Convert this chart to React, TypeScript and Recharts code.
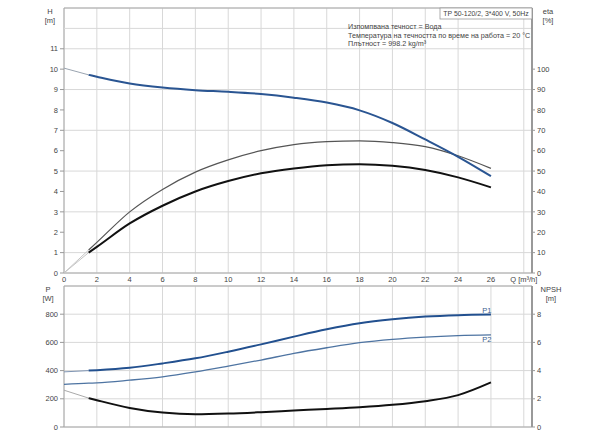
import { LineChart, Line, XAxis, YAxis, CartesianGrid, ReferenceArea, ReferenceLine } from 'recharts'

// flow Q [m³/h]; index 0 and 1 hold the faint start-up segment
const flow = [0, 1.5, 2, 4, 6, 8, 10, 12, 14, 16, 18, 20, 22, 24, 26]
const xTicks = [0, 2, 4, 6, 8, 10, 12, 14, 16, 18, 20, 22, 24, 26, 28]

// top chart: head [m] and efficiencies [%]
const headStart = [10.05, 9.72]
const head = [null, 9.72, 9.63, 9.3, 9.1, 8.97, 8.89, 8.78, 8.6, 8.36, 7.98, 7.36, 6.55, 5.7, 4.75]
const etaPumpStart = [0, 11.3]
const etaPump = [null, 11.3, 15, 30, 41, 49.5, 55.5, 60, 63, 64.4, 64.8, 64, 62, 57.5, 51.3]
const etaTotalStart = [0, 10]
const etaTotal = [null, 10, 12.8, 24.3, 33, 40, 45.1, 48.9, 51.3, 52.9, 53.4, 52.6, 50.5, 46.9, 42]
const hTicks = [0, 1, 2, 3, 4, 5, 6, 7, 8, 9, 10, 11]
const etaTicks = [0, 10, 20, 30, 40, 50, 60, 70, 80, 90, 100]

// bottom chart: power [W] and NPSH [m]
const p1Start = [391, 400]
const p1 = [null, 400, 403, 420, 451, 487, 534, 586, 641, 693, 736, 764, 783, 793, 797]
const p2 = [302, 311, 313, 332, 356, 391, 432, 475, 522, 562, 598, 622, 638, 648, 653]
const npshStart = [2.61, 2.05]
const npsh = [null, 2.05, 1.9, 1.35, 1.02, 0.9, 0.95, 1.05, 1.17, 1.28, 1.4, 1.57, 1.83, 2.26, 3.16]
const pTicks = [0, 200, 400, 600, 800]
const npshTicks = [0, 2, 4, 6, 8]

const topData = flow.map((q, i) => ({
  q,
  hStart: i < 2 ? headStart[i] : null,
  h: head[i],
  epStart: i < 2 ? etaPumpStart[i] : null,
  ep: etaPump[i],
  etStart: i < 2 ? etaTotalStart[i] : null,
  et: etaTotal[i],
}))

const bottomData = flow.map((q, i) => ({
  q,
  p1Start: i < 2 ? p1Start[i] : null,
  p1: p1[i],
  p2: p2[i],
  nStart: i < 2 ? npshStart[i] : null,
  npsh: npsh[i],
}))

const font = 'Liberation Sans, Arial, sans-serif'
const tickStyle = { fontSize: 7.5, fill: '#444', fontFamily: font }
const gridColor = '#d8d8d8'
const borderColor = '#aaa'

const endLabel = (text: string, dy: number, last: number) => (props: any) => {
  if (props.index !== last) return null
  return (
    <text x={props.x - 4} y={props.y + dy} textAnchor="middle" fontSize={7.5} fill="#3a5f8f" fontFamily={font}>
      {text}
    </text>
  )
}

export default function App() {
  const last = flow.length - 1
  return (
    <div style={{ position: 'absolute', left: 0, top: 0, width: 600, height: 441, background: '#fff' }}>
      <div style={{ position: 'absolute', left: 0, top: 0 }}>
        <LineChart width={600} height={287} data={topData} margin={{ top: 8, right: 0, bottom: 0, left: 0 }}>
          <CartesianGrid stroke={gridColor} yAxisId="h" />
          <XAxis
            dataKey="q"
            type="number"
            domain={[0, 28.5]}
            ticks={xTicks}
            height={14}
            tick={tickStyle}
            tickLine={false}
            axisLine={false}
            tickSize={0}
            tickMargin={4}
            tickFormatter={(v) => (v === 28 ? 'Q [m³/h]' : String(v))}
          />
          <YAxis
            yAxisId="h"
            domain={[0, 13]}
            ticks={hTicks}
            width={64}
            tick={tickStyle}
            tickSize={4}
            tickMargin={2}
            tickLine={{ stroke: '#999' }}
            axisLine={false}
          />
          <YAxis
            yAxisId="eta"
            orientation="right"
            domain={[0, 130]}
            ticks={etaTicks}
            width={68}
            tick={{ ...tickStyle, textAnchor: 'start' }}
            tickSize={3}
            tickMargin={2}
            tickLine={{ stroke: '#999' }}
            axisLine={{ stroke: '#999', strokeWidth: 2 }}
          />
          <ReferenceLine yAxisId="h" y={12} stroke={gridColor} />
          <ReferenceArea yAxisId="h" x1={0} x2={28.5} y1={0} y2={13} fill="none" stroke={borderColor} />
          <Line yAxisId="eta" dataKey="epStart" type="linear" stroke="#c4c4c4" strokeWidth={1} dot={false} isAnimationActive={false} />
          <Line yAxisId="eta" dataKey="etStart" type="linear" stroke="#c4c4c4" strokeWidth={1} dot={false} isAnimationActive={false} />
          <Line yAxisId="h" dataKey="hStart" type="linear" stroke="#9aa4b0" strokeWidth={1} dot={false} isAnimationActive={false} />
          <Line yAxisId="eta" dataKey="ep" type="monotone" stroke="#555" strokeWidth={1.2} dot={false} isAnimationActive={false} />
          <Line yAxisId="eta" dataKey="et" type="monotone" stroke="#111" strokeWidth={2} dot={false} isAnimationActive={false} />
          <Line yAxisId="h" dataKey="h" type="monotone" stroke="#2a5592" strokeWidth={2} dot={false} isAnimationActive={false} />
        </LineChart>
      </div>
      <div style={{ position: 'absolute', left: 0, top: 280 }}>
        <LineChart width={600} height={161} data={bottomData} margin={{ top: 6, right: 0, bottom: 14, left: 0 }}>
          <CartesianGrid stroke={gridColor} yAxisId="p" />
          <XAxis dataKey="q" type="number" domain={[0, 28.5]} ticks={xTicks} hide />
          <YAxis
            yAxisId="p"
            domain={[0, 1000]}
            ticks={pTicks}
            width={64}
            tick={tickStyle}
            tickSize={4}
            tickMargin={2}
            tickLine={{ stroke: '#999' }}
            axisLine={false}
          />
          <YAxis
            yAxisId="n"
            orientation="right"
            domain={[0, 10]}
            ticks={npshTicks}
            width={68}
            tick={{ ...tickStyle, textAnchor: 'start' }}
            tickSize={3}
            tickMargin={2}
            tickLine={{ stroke: '#999' }}
            axisLine={{ stroke: '#999', strokeWidth: 2 }}
          />
          <ReferenceArea yAxisId="p" x1={0} x2={28.5} y1={0} y2={1000} fill="none" stroke={borderColor} />
          <Line yAxisId="p" dataKey="p1Start" type="linear" stroke="#7f95b3" strokeWidth={1} dot={false} isAnimationActive={false} />
          <Line yAxisId="n" dataKey="nStart" type="linear" stroke="#aaa" strokeWidth={1} dot={false} isAnimationActive={false} />
          <Line yAxisId="p" dataKey="p2" type="monotone" stroke="#4e74a2" strokeWidth={1.3} dot={false} isAnimationActive={false} label={endLabel('P2', 7.5, last)} />
          <Line yAxisId="p" dataKey="p1" type="monotone" stroke="#22508f" strokeWidth={2} dot={false} isAnimationActive={false} label={endLabel('P1', -2, last)} />
          <Line yAxisId="n" dataKey="npsh" type="monotone" stroke="#111" strokeWidth={2} dot={false} isAnimationActive={false} />
        </LineChart>
      </div>
      <svg width={600} height={441} style={{ position: 'absolute', left: 0, top: 0, pointerEvents: 'none' }} fontFamily={font} fontSize={7.5} fill="#444">
        <text x={50} y={14} textAnchor="middle">H</text>
        <text x={50} y={23} textAnchor="middle">[m]</text>
        <text x={548} y={14} textAnchor="middle">eta</text>
        <text x={548} y={23} textAnchor="middle">[%]</text>
        <text x={48} y={292} textAnchor="middle">P</text>
        <text x={48} y={301} textAnchor="middle">[W]</text>
        <text x={551} y={292} textAnchor="middle">NPSH</text>
        <text x={551} y={301} textAnchor="middle">[m]</text>
        <rect x={440} y={8} width={92} height={11} fill="#fff" stroke="#999" strokeWidth={0.8} />
        <text x={486} y={16.3} textAnchor="middle" fontSize={6.9}>TP 50-120/2, 3*400 V, 50Hz</text>
        <text x={348} y={28.5} fontSize={7.2}>Изпомпвана течност = Вода</text>
        <text x={348} y={37.5} fontSize={7.2}>Температура на течността по време на работа = 20 °C</text>
        <text x={348} y={46} fontSize={7.2}>Плътност = 998.2 kg/m³</text>
      </svg>
    </div>
  )
}
